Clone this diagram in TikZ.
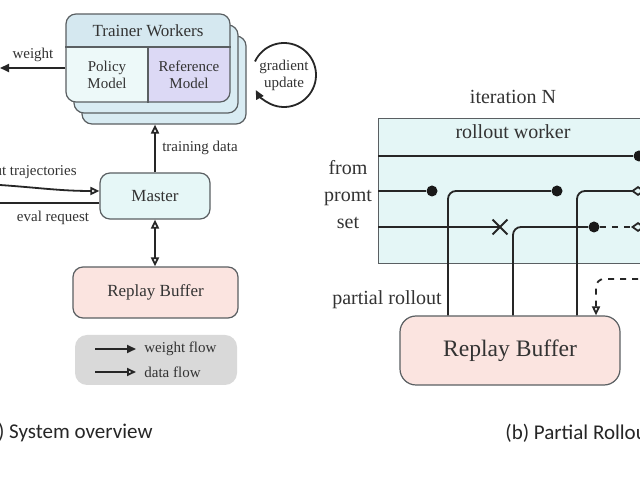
\documentclass[tikz,border=0pt]{standalone}
\usepackage{fontspec}
\setmainfont{Liberation Serif}
\newfontfamily\capfont{Carlito}
\usetikzlibrary{arrows.meta,shapes.misc}

\definecolor{boxgray}{HTML}{5A5F62}
\definecolor{hdrblue}{HTML}{D5E8F0}
\definecolor{stackblue}{HTML}{D9ECF3}
\definecolor{polcyan}{HTML}{EDF9F9}
\definecolor{reflav}{HTML}{DCD9F5}
\definecolor{mastercyan}{HTML}{E6F7F7}
\definecolor{bufpink}{HTML}{FBE4E0}
\definecolor{legendgray}{HTML}{D9D9D9}
\definecolor{workcyan}{HTML}{E4F6F6}

\tikzset{
  box/.style={draw=boxgray, line width=0.6pt, rounded corners=5pt},
  flow/.style={line width=0.9pt, draw=black!85},
  wflow/.style={flow, -{Triangle[length=4.5pt,width=4pt]}},
  dflow/.style={flow, -{Triangle[open,length=4.5pt,width=4pt]}},
  dot/.style={circle, fill=black!90, inner sep=0pt, minimum size=5.5pt},
  lbl/.style={font=\fontsize{7.5}{8.5}\selectfont, text=black!80, inner sep=1pt},
  mid/.style={font=\fontsize{8.5}{9.5}\selectfont, text=black!80},
  big/.style={font=\fontsize{10}{13.5}\selectfont, text=black!80, inner sep=1pt},
  caption/.style={font=\capfont\fontsize{10.5}{12}\selectfont, text=black!85, inner sep=0pt},
}

\begin{document}
\begin{tikzpicture}[x=0.5pt, y=0.5pt]
\useasboundingbox (0,0) rectangle (640,480);
\clip (0,0) rectangle (640,480);
\fill[white] (0,0) rectangle (640,480);

% Trainer worker stack (back layers first)
\node[box, fill=stackblue, minimum width=82pt, minimum height=44pt] (tw3) at (164,400) {};
\node[box, fill=stackblue, minimum width=82pt, minimum height=44pt] (tw2) at (156,411) {};
\begin{scope}
\clip[rounded corners=5pt] (66,378) rectangle (230,466);
\fill[hdrblue] (66,433) rectangle (230,466);
\fill[polcyan] (66,378) rectangle (148,433);
\fill[reflav] (148,378) rectangle (230,433);
\end{scope}
\node[box, minimum width=82pt, minimum height=44pt] (tw) at (148,422) {};
\draw[boxgray, line width=0.6pt] (tw.west |- 0,433) -- (tw.east |- 0,433);
\draw[boxgray, line width=0.6pt] (148,433) -- (tw.south);
\node[mid] (twhead) at (148,449) {Trainer Workers};
\node[lbl, align=center] (policy) at (107,405) {Policy\\Model};
\node[lbl, align=center] (refmodel) at (189,405) {Reference\\Model};

% Gradient update loop
\node[lbl, align=center] (grad) at (284,405) {gradient\\update};
\draw[wflow] ([shift={(155:16pt)}]grad.center) arc[start angle=155, end angle=-152, radius=16pt];

% Weight out to the left
\coordinate (wout) at (0,412);
\draw[wflow] ([yshift=-5pt]tw.west) -- (wout);
\node[lbl] (wlbl) at (33,425) {weight};

% Master and its links
\node[box, fill=mastercyan, mid, minimum width=55pt, minimum height=23pt] (master) at (155,284) {Master};
\draw[dflow] (master.north) -- (master.north |- tw3.south);
\node[lbl] (tdlbl) at (200,332) {training data};

\coordinate (rtin) at (0,295);
\draw[dflow] (rtin) to[out=-4, in=180] ([yshift=2.5pt]master.west);
\node[lbl, anchor=east] (rtlbl) at (79,308) {rollout trajectories};
\coordinate (evout) at (0,277);
\draw[flow] ([yshift=-3.5pt]master.west) -- (evout);
\node[lbl] (evlbl) at (53,262) {eval request};

% Replay buffer (a)
\node[box, fill=bufpink, mid, minimum width=82.5pt, minimum height=25.5pt] (bufa) at (155.5,187.5) {Replay Buffer};
\draw[flow, {Triangle[open,length=4.5pt,width=4pt]}-{Triangle[open,length=4.5pt,width=4pt]}] (master.south) -- (master.south |- bufa.north);

% Legend
\node[fill=legendgray, rounded corners=6pt, minimum width=81pt, minimum height=25pt] (legend) at (156,120) {};
\coordinate (lw1) at (95,131);
\coordinate (lw2) at (136,131);
\draw[wflow] (lw1) -- (lw2);
\node[lbl, anchor=west] (lwt) at (142,131) {weight flow};
\coordinate (ld1) at (95,108);
\coordinate (ld2) at (136,108);
\draw[dflow] (ld1) -- (ld2);
\node[lbl, anchor=west] (ldt) at (142,108) {data flow};

\node[caption, anchor=east] (capa) at (153,47) {(a) System overview};

% Rollout worker (b)
\node[big] (iter) at (513,383) {iteration N};
\node[draw=boxgray, line width=0.6pt, fill=workcyan, minimum width=161pt, minimum height=72.5pt, anchor=south west, inner sep=0pt] (worker) at (378,216) {};
\node[big] (wtitle) at (513,348) {rollout worker};
\node[big, align=center] (prompt) at (348,285) {from\\promt\\set};

\node[box, fill=bufpink, font=\fontsize{11.8}{14}\selectfont, text=black!80, minimum width=110pt, minimum height=34.5pt, rounded corners=8pt] (bufb) at (510,129.5) {Replay Buffer};

% Row 1
\node[dot] (d1) at (639,324) {};
\draw[flow] (worker.west |- d1) -- (d1);
% Row 2
\node[dot] (d2a) at (432,289) {};
\draw[flow] (worker.west |- d2a) -- (d2a);
\node[dot] (d2b) at (557,289) {};
\draw[flow, rounded corners=4pt] ([xshift=-31pt]bufb.north) |- (d2b);
\coordinate (r2) at (645,289);
\draw[flow, -{Diamond[open,length=7pt,width=5pt]}, rounded corners=4pt] ([xshift=33.5pt]bufb.north) |- (r2);
% Row 3
\node[cross out, draw=black!85, line width=0.9pt, inner sep=0pt, minimum size=6.5pt] (x3) at (500,253) {};
\draw[flow] (worker.west |- x3) -- (x3.center);
\node[dot] (d3) at (594,253) {};
\draw[flow, rounded corners=4pt] ([xshift=1.5pt]bufb.north) |- (d3);
\coordinate (r3) at (645,253);
\draw[flow, dashed, -{Diamond[open,length=7pt,width=5pt]}] (d3) -- (r3);

% Dashed input into the buffer
\coordinate (din) at (650,201);
\draw[dflow, dashed, rounded corners=4pt] (din) -| ([xshift=43pt]bufb.north);
\node[big] (prlbl) at (387,180) {partial rollout};

\node[caption, anchor=west] (capb) at (505,47) {(b) Partial Rollout};

\end{tikzpicture}
\end{document}
